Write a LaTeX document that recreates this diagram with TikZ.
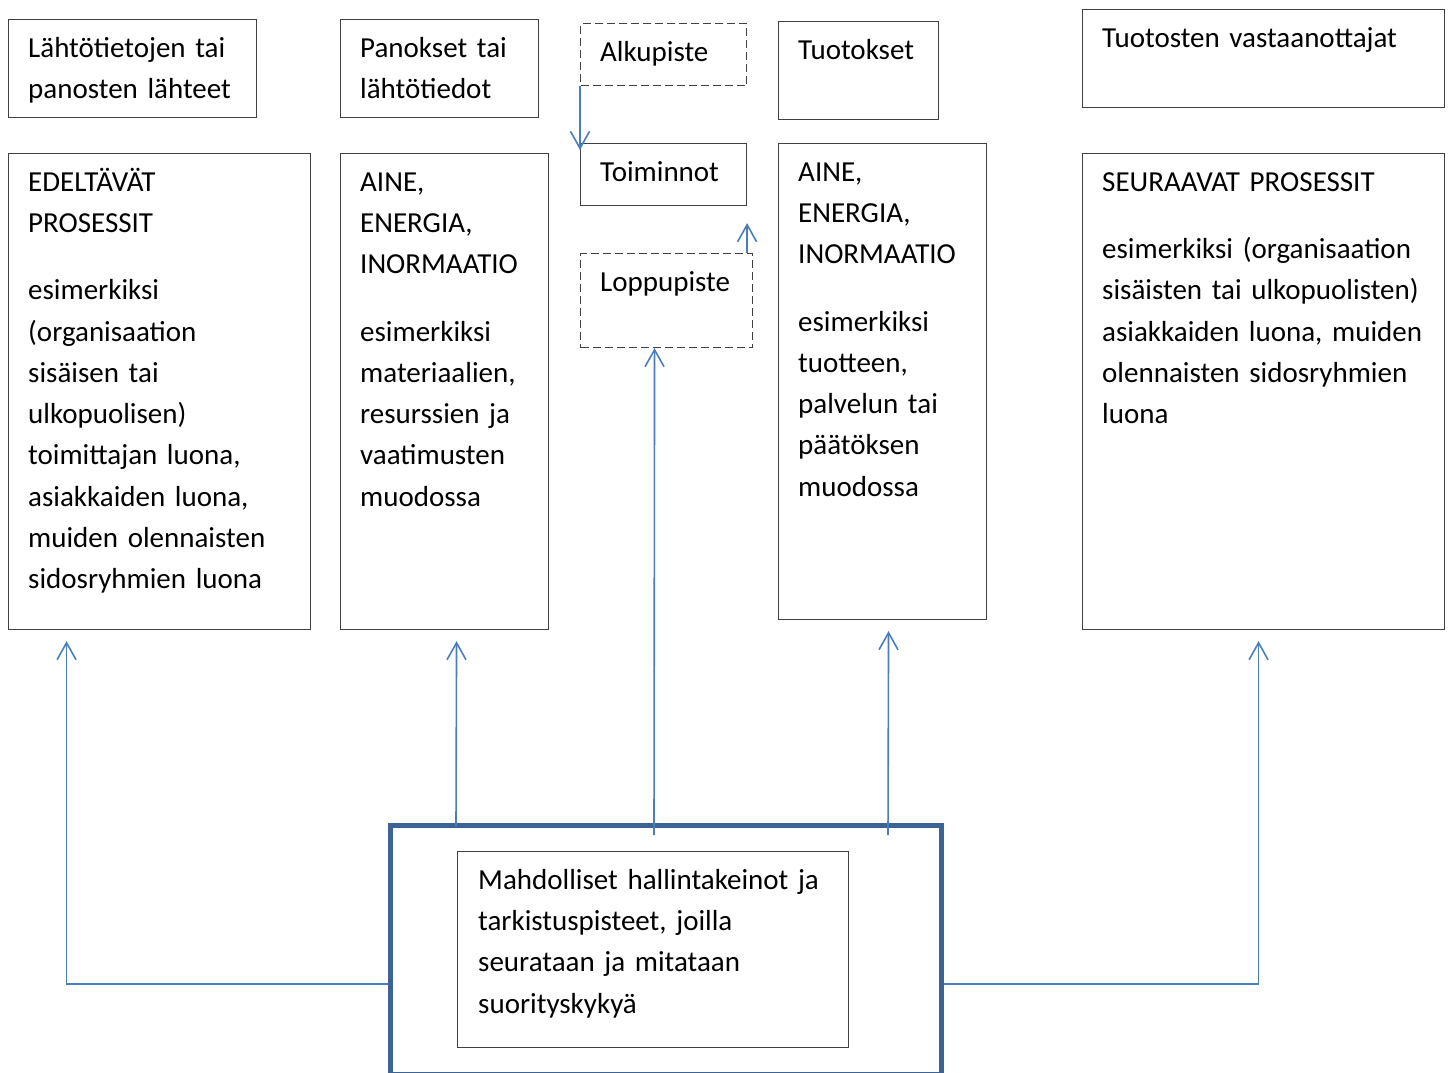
\documentclass[tikz,border=0pt]{standalone}
\usepackage{fontspec}
\setmainfont{Carlito}
\usetikzlibrary{arrows.meta,positioning}
\definecolor{flowblue}{HTML}{4A7EBB}
\definecolor{frameblue}{HTML}{3B6494}

\begin{document}
\begin{tikzpicture}[
  x=1pt, y=-1pt,
  box/.style={draw=black!75, line width=1.1pt, anchor=north west, inner sep=0pt},
  dashbox/.style={box, dash pattern=on 8pt off 4pt},
  txt/.style={anchor=north west, inner sep=0pt, align=left,
    font=\fontsize{29}{41.3}\selectfont, execute at begin node=\strut},
  flow/.style={-{Straight Barb[length=17pt, width=19pt]}, draw=flowblue, line width=1.6pt}
]
\useasboundingbox (0,0) rectangle (1453,1073);
\node[box, minimum width=248pt, minimum height=98pt] (src) at (8,19) {};
\node[box, minimum width=198pt, minimum height=98pt] (inpHead) at (340,19) {};
\node[dashbox, minimum width=166pt, minimum height=62pt] (start) at (580,23) {};
\node[box, minimum width=160pt, minimum height=98pt] (outHead) at (778,21) {};
\node[box, minimum width=362pt, minimum height=98pt] (recv) at (1082,9) {};
\node[box, minimum width=302pt, minimum height=476pt] (prev) at (8,153) {};
\node[box, minimum width=208pt, minimum height=476pt] (inp) at (340,153) {};
\node[box, minimum width=166pt, minimum height=62pt] (act) at (580,143) {};
\node[dashbox, minimum width=172pt, minimum height=94pt] (stop) at (580,253) {};
\node[box, minimum width=208pt, minimum height=476pt] (outp) at (778,143) {};
\node[box, minimum width=362pt, minimum height=476pt] (next) at (1082,153) {};
\node[box, draw=frameblue, line width=4.5pt, minimum width=551pt, minimum height=249pt] (outer) at (388,823) {};
\node[box, minimum width=391pt, minimum height=196pt] (ctrl) at (457,851) {};

\node[txt, text width=226pt] (srcText) at ([shift={(20pt,-9pt)}]src.north west) {Lähtötietojen tai\\panosten lähteet};
\node[txt, text width=176pt] (inpHeadText) at ([shift={(20pt,-9pt)}]inpHead.north west) {Panokset tai\\lähtötiedot};
\node[txt, text width=144pt] (startText) at ([shift={(20pt,-9pt)}]start.north west) {Alkupiste};
\node[txt, text width=138pt] (outHeadText) at ([shift={(20pt,-9pt)}]outHead.north west) {Tuotokset};
\node[txt, text width=340pt] (recvText) at ([shift={(20pt,-9pt)}]recv.north west) {Tuotosten vastaanottajat};
\node[txt, text width=280pt] (prevText) at ([shift={(20pt,-9pt)}]prev.north west)
  {EDELTÄVÄT\\PROSESSIT\\[26pt]esimerkiksi\\(organisaation\\sisäisen tai\\ulkopuolisen)\\toimittajan luona,\\asiakkaiden luona,\\muiden olennaisten\\sidosryhmien luona};
\node[txt, text width=186pt] (inpText) at ([shift={(20pt,-9pt)}]inp.north west)
  {AINE,\\ENERGIA,\\INORMAATIO\\[26pt]esimerkiksi\\materiaalien,\\resurssien ja\\vaatimusten\\muodossa};
\node[txt, text width=144pt] (actText) at ([shift={(20pt,-9pt)}]act.north west) {Toiminnot};
\node[txt, text width=150pt] (stopText) at ([shift={(20pt,-9pt)}]stop.north west) {Loppupiste};
\node[txt, text width=186pt] (outpText) at ([shift={(20pt,-9pt)}]outp.north west)
  {AINE,\\ENERGIA,\\INORMAATIO\\[26pt]esimerkiksi\\tuotteen,\\palvelun tai\\päätöksen\\muodossa};
\node[txt, text width=340pt] (nextText) at ([shift={(20pt,-9pt)}]next.north west)
  {SEURAAVAT PROSESSIT\\[26pt]esimerkiksi (organisaation\\sisäisten tai ulkopuolisten)\\asiakkaiden luona, muiden\\olennaisten sidosryhmien\\luona};
\node[txt, text width=368pt] (ctrlText) at ([shift={(21pt,-9pt)}]ctrl.north west)
  {Mahdolliset hallintakeinot ja\\tarkistuspisteet, joilla\\seurataan ja mitataan\\suorityskykyä};

\draw[flow] (start.south west) -- ([yshift=-7pt]act.north west);
\draw[flow] ([xshift=-6pt]stop.north east) -- ([yshift=-17pt]act.south east);
\draw[flow] ([shift={(266pt,-12pt)}]outer.north west) -- ([xshift=-12pt]stop.south);
\draw[flow] ([shift={(68pt,-3pt)}]outer.north west) -- ([shift={(12pt,-11pt)}]inp.south);
\draw[flow] ([shift={(500pt,-12pt)}]outer.north west) -- ([shift={(6pt,-11pt)}]outp.south);
\draw[flow] ([yshift=-34pt]outer.west) -| ([shift={(-93pt,-11pt)}]prev.south);
\draw[flow] ([yshift=-34pt]outer.east) -| ([shift={(-5pt,-11pt)}]next.south);
\end{tikzpicture}
\end{document}
